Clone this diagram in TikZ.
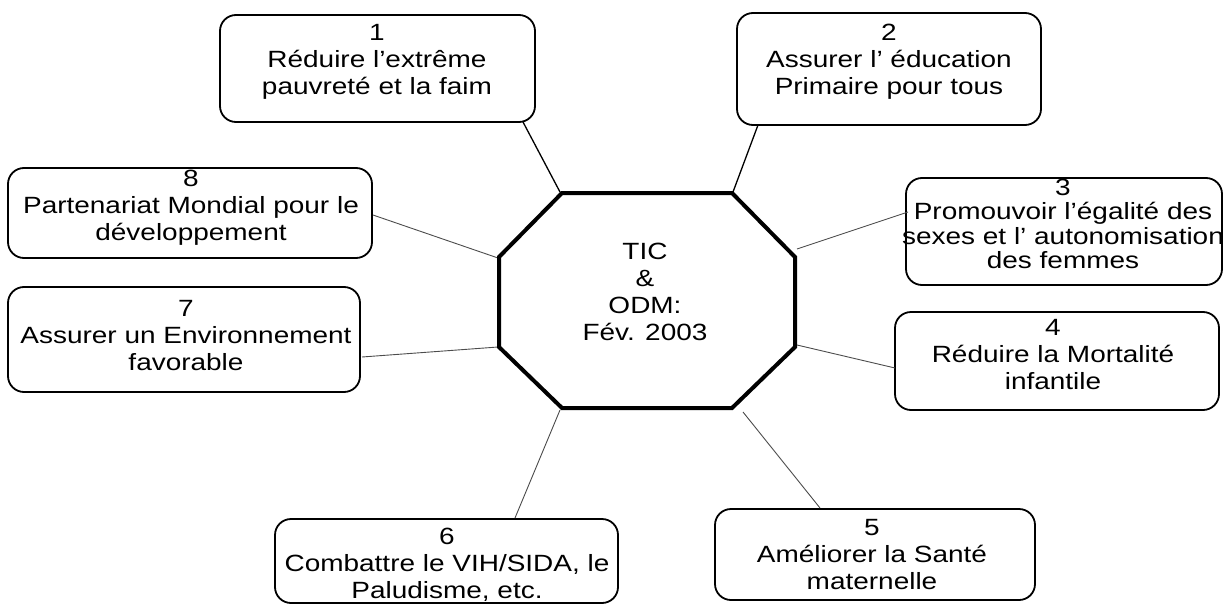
\documentclass[tikz,border=0pt]{standalone}
\usepackage{fontspec}
\setmainfont{Liberation Sans}[FakeStretch=1.19]
\begin{document}
\begin{tikzpicture}[x=1pt,y=-1pt,
  box/.style={draw, line width=1.8pt, rounded corners=16pt, inner sep=0pt},
  txt/.style={align=center, font=\fontsize{23.5}{27}\selectfont, inner sep=0pt},
  link/.style={line width=0.9pt, draw=black!70},
  boldlink/.style={line width=1.3pt, draw=black},
  octo/.style={line width=4pt, draw=black, fill=white}]
\useasboundingbox (0,0) rectangle (1224,605);

% boxes
\node[box, minimum width=315pt, minimum height=107pt] (b1) at (377.5,68.5) {};
\node[box, minimum width=304pt, minimum height=112pt] (b2) at (889,69) {};
\node[box, minimum width=316pt, minimum height=107pt] (b3) at (1064,231.5) {};
\node[box, minimum width=324pt, minimum height=98pt] (b4) at (1057,361) {};
\node[box, minimum width=320pt, minimum height=91pt] (b5) at (875,554.5) {};
\node[box, minimum width=343pt, minimum height=84pt] (b6) at (446.5,561) {};
\node[box, minimum width=352pt, minimum height=105pt] (b7) at (184,339.5) {};
\node[box, minimum width=364pt, minimum height=90pt] (b8) at (190,213) {};

% texts
\node[txt] (t1) at (377,62) {1\\Réduire l’extrême\\pauvreté et la faim};
\node[txt] (t2) at (889,62) {2\\Assurer l’ éducation\\Primaire pour tous};
\node[txt, font=\fontsize{23.5}{24.5}\selectfont] (t3) at (1063,224) {3\\Promouvoir l’égalité des\\sexes et l’ autonomisation\\des femmes};
\node[txt] (t4) at (1053,355) {4\\Réduire la Mortalité\\infantile};
\node[txt] (t5) at (872,555) {5\\Améliorer la Santé\\maternelle};
\node[txt] (t6) at (447,565) {6\\Combattre le VIH/SIDA, le\\Paludisme, etc.};
\node[txt] (t7) at (186,336) {7\\Assurer un Environnement\\favorable};
\node[txt] (t8) at (191,208) {8\\Partenariat Mondial pour le\\développement};

% connector end points
\coordinate (p1) at (523,122);  \coordinate (q1) at (560,192);
\coordinate (p2) at (758,125);  \coordinate (q2) at (733,192);
\coordinate (p3) at (908,212);  \coordinate (q3) at (797,249);
\coordinate (p4) at (895,368);  \coordinate (q4) at (797,345);
\coordinate (p5) at (820,508);  \coordinate (q5) at (743,412);
\coordinate (p6) at (515,518);  \coordinate (q6) at (560,410);
\coordinate (p7) at (362,357);  \coordinate (q7) at (498,347);
\coordinate (p8) at (373,215);  \coordinate (q8) at (498,258);

\draw[boldlink] (p1) -- (q1);
\draw[boldlink] (p2) -- (q2);
\draw[link] (p3) -- (q3);
\draw[link] (p4) -- (q4);
\draw[link] (p5) -- (q5);
\draw[link] (p6) -- (q6);
\draw[link] (p7) -- (q7);
\draw[link] (p8) -- (q8);

% octagon
\coordinate (o1) at (562,193); \coordinate (o2) at (732,193);
\coordinate (o3) at (795,257); \coordinate (o4) at (795,347);
\coordinate (o5) at (732,408); \coordinate (o6) at (562,408);
\coordinate (o7) at (499,347); \coordinate (o8) at (499,257);
\draw[octo] (o1) -- (o2) -- (o3) -- (o4) -- (o5) -- (o6) -- (o7) -- (o8) -- cycle;
\node[txt] (hub) at (645,292) {TIC\\\&\\ODM:\\Fév. 2003};
\end{tikzpicture}
\end{document}
